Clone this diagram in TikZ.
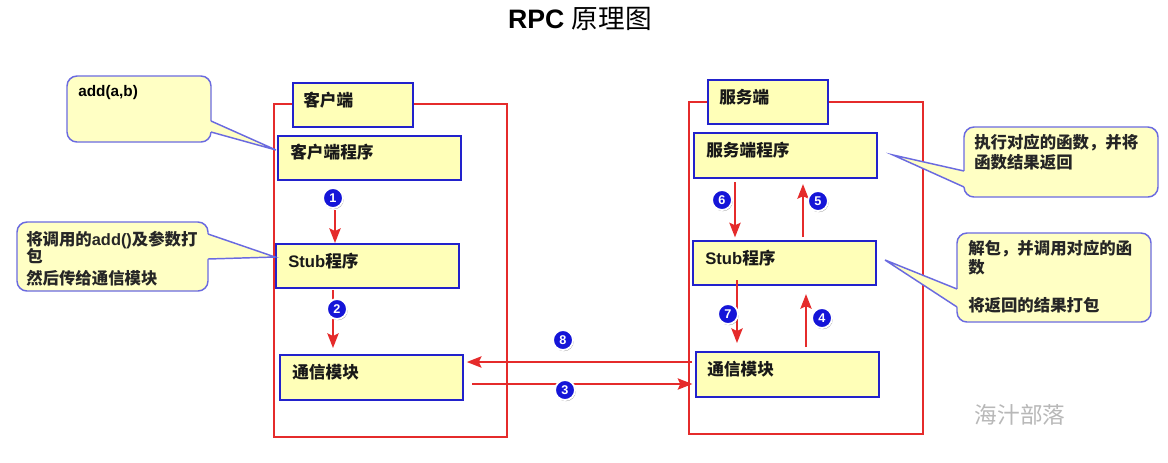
\documentclass[tikz,border=0pt]{standalone}
\usepackage{fontspec}
\setmainfont{Liberation Sans}
\newfontfamily\cjk{Noto Sans CJK SC}
\newfontfamily\lat{Liberation Sans}
\usetikzlibrary{arrows.meta,shadows}
\definecolor{boxblue}{HTML}{2222CC}
\definecolor{boxfill}{HTML}{FFFFB8}
\definecolor{callfill}{HTML}{FFFFC4}
\definecolor{callline}{HTML}{6A6AE0}
\definecolor{redline}{HTML}{E52B2B}
\definecolor{numblue}{HTML}{1515D8}
\begin{document}
\begin{tikzpicture}[x=0.75pt,y=-0.75pt,
 box/.style={draw=boxblue, fill=boxfill, line width=1.6pt, anchor=north west, inner sep=0pt},
 lbl/.style={anchor=west, inner sep=0pt, font=\cjk\bfseries\fontsize{12.5}{14}\selectfont, text=black!90},
 ctext/.style={anchor=west, inner sep=0pt, font=\cjk\bfseries\fontsize{12.3}{14}\selectfont, text=black!85},
 num/.style={circle, fill=numblue, draw=white, line width=1.4pt, minimum size=15pt, inner sep=0pt, text=white,
   font=\bfseries\fontsize{9.5}{10}\selectfont,
   drop shadow={shadow xshift=0.6pt, shadow yshift=-0.9pt, fill=black, opacity=0.35}},
 arr/.style={draw=redline, line width=1.4pt, -{Stealth[length=11pt,width=8.5pt,inset=2pt]}},
 frame/.style={draw=redline, line width=1.2pt},
 callout/.style={draw=callline, fill=callfill, line width=1.1pt},
 callfillonly/.style={fill=callfill},
 callptr/.style={draw=callline, line width=1.1pt}]
\useasboundingbox (0,0) rectangle (1168,462);
\fill[white] (0,0) rectangle (1168,462);

% title
\node (title) at (580,19) {\fontsize{20}{22}\selectfont\bfseries RPC\ \cjk\mdseries 原理图};

% frames
\draw[frame] (274,104) rectangle (507,437);
\draw[frame] (689,102) rectangle (923,434);

% client boxes
\node[box, minimum width=90pt, minimum height=33pt] (chead) at (292,82) {};
\node[box, minimum width=137.25pt, minimum height=33pt] (cprog) at (277,135) {};
\node[box, minimum width=137.25pt, minimum height=33pt] (cstub) at (275,243) {};
\node[box, minimum width=137.25pt, minimum height=33.75pt] (ccomm) at (279,354) {};
\node[lbl] (lchead) at (303,100) {客户端};
\node[lbl] (lcprog) at (290,152) {客户端程序};
\node[lbl] (lcstub) at (288,261) {{\lat Stub}程序};
\node[lbl] (lccomm) at (292,372) {通信模块};

% server boxes
\node[box, minimum width=90pt, minimum height=33pt] (shead) at (707,79) {};
\node[box, minimum width=137.25pt, minimum height=33.75pt] (sprog) at (693,132) {};
\node[box, minimum width=137.25pt, minimum height=33pt] (sstub) at (692,240) {};
\node[box, minimum width=137.25pt, minimum height=33.75pt] (scomm) at (695,351) {};
\node[lbl] (lshead) at (719,97) {服务端};
\node[lbl] (lsprog) at (706,150) {服务端程序};
\node[lbl] (lsstub) at (705,258) {{\lat Stub}程序};
\node[lbl] (lscomm) at (707,369) {通信模块};

% arrow start points
\coordinate (a1) at (335,210);
\coordinate (a2) at (333,290);
\coordinate (a6) at (735,182);
\coordinate (a5) at (803,237);
\coordinate (a7) at (737,280);
\coordinate (a4) at (806,347);
\coordinate (a8) at (692,362);
\coordinate (a3) at (472,384);

\draw[arr] (a1) -- (a1 |- cstub.north);
\draw[arr, shorten >=4.5pt] (a2) -- (a2 |- ccomm.north);
\draw[arr, shorten >=2pt] (a6) -- (a6 |- sstub.north);
\draw[arr, shorten >=3.75pt] (a5) -- (a5 |- sprog.south);
\draw[arr, shorten >=6pt] (a7) -- (a7 |- scomm.north);
\draw[arr, shorten >=6pt] (a4) -- (a4 |- sstub.south);
\draw[arr, shorten >=2pt] (a8) -- (a8 -| ccomm.east);
\draw[arr, shorten >=2pt] (a3) -- (a3 -| scomm.west);

% number badges
\node[num] (n1) at (333,198) {1};
\node[num] (n2) at (337,309) {2};
\node[num] (n3) at (565,390) {3};
\node[num] (n4) at (822,318) {4};
\node[num] (n5) at (818,201) {5};
\node[num] (n6) at (722,200) {6};
\node[num] (n7) at (728,314) {7};
\node[num] (n8) at (563,340) {8};

% callout 1
\draw[callout, rounded corners=7.5pt] (67,76) rectangle (211,142);
\fill[callfillonly] (205,121) -- (211,121) -- (276,150) -- (211,132) -- (205,132) -- cycle;
\draw[callptr] (211,121) -- (276,150) -- (211,132);
\node[anchor=west, inner sep=0pt, font=\bfseries\fontsize{11.5}{14}\selectfont] (t1) at (78,93) {add(a,b)};

% callout 2
\draw[callout, rounded corners=7.5pt] (17,222) rectangle (208,291);
\fill[callfillonly] (202,234) -- (208,234) -- (275,257) -- (208,259) -- (202,259) -- cycle;
\draw[callptr] (208,234) -- (275,257) -- (208,259);
\node[ctext] (t2a) at (26,240) {将调用的{\lat add()}及参数打};
\node[ctext] (t2b) at (26,256) {包};
\node[ctext] (t2c) at (26,278) {然后传给通信模块};

% callout 3
\draw[callout, rounded corners=7.5pt] (964,127) rectangle (1158,197);
\fill[callfillonly] (970,171) -- (964,171) -- (893,155) -- (964,187) -- (970,187) -- cycle;
\draw[callptr] (964,171) -- (893,155) -- (964,187);
\node[ctext] (t3a) at (974,143) {执行对应的函数，并将};
\node[ctext] (t3b) at (974,162) {函数结果返回};

% callout 4
\draw[callout, rounded corners=7.5pt] (957,233) rectangle (1151,322);
\fill[callfillonly] (963,289) -- (957,289) -- (885,260) -- (957,307) -- (963,307) -- cycle;
\draw[callptr] (957,289) -- (885,260) -- (957,307);
\node[ctext] (t4a) at (968,249) {解包，并调用对应的函};
\node[ctext] (t4b) at (968,267) {数};
\node[ctext] (t4c) at (968,305) {将返回的结果打包};

% watermark
\node[text=black!28, font=\cjk\fontsize{17}{18}\selectfont] (wm) at (1020,415) {海汁部落};
\end{tikzpicture}
\end{document}
